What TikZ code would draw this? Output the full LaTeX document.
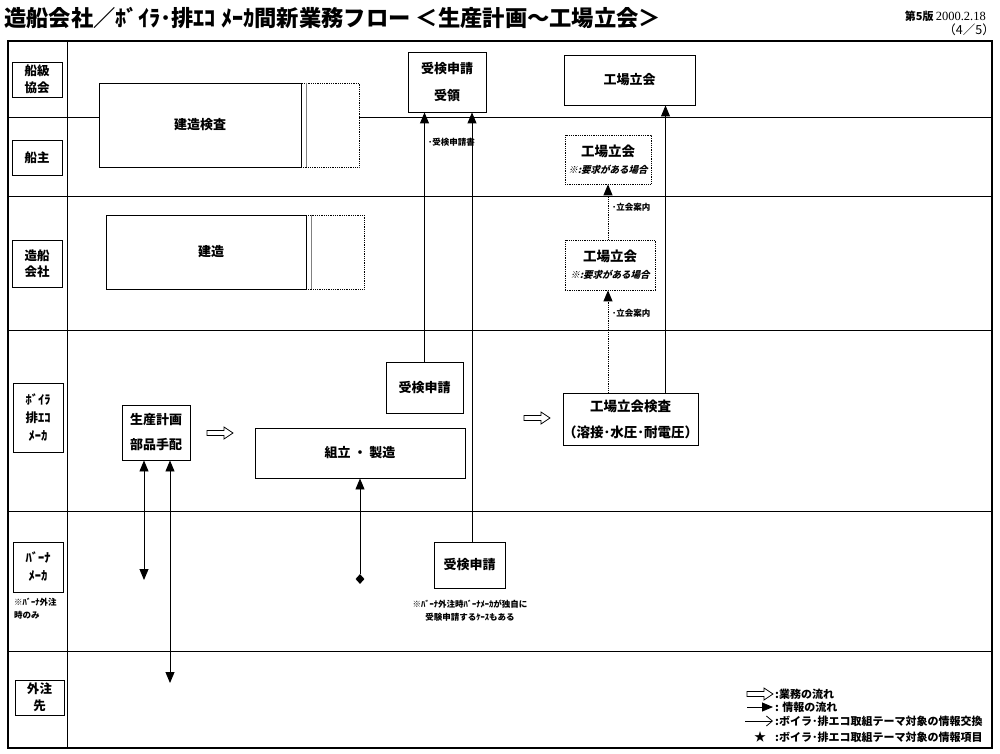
\documentclass[tikz,border=0pt]{standalone}
\usepackage{fontspec}
\setmainfont{Noto Sans CJK JP}
\newfontfamily\jpsl{Noto Sans CJK JP}[FakeSlant=0.25]
\newfontfamily\tnr{Liberation Serif}
\usetikzlibrary{arrows.meta,calc,shapes.geometric}
\begin{document}
\begin{tikzpicture}[x=1pt,y=-1pt,
  box/.style={draw,line width=0.9pt,fill=white,inner sep=0pt,align=center,font=\fontsize{13}{26}\selectfont\bfseries},
  dbox/.style={box,dash pattern=on 0.9pt off 0.9pt,line width=0.7pt},
  lab/.style={box,font=\fontsize{12.5}{16.5}\selectfont\bfseries},
  lane/.style={line width=0.7pt},
  info/.style={line width=0.9pt,-{Triangle[length=11pt,width=9pt]}},
  infob/.style={line width=0.9pt,{Triangle[length=11pt,width=9pt]}-{Triangle[length=11pt,width=9pt]}},
  dline/.style={dash pattern=on 0.9pt off 0.9pt},
  small/.style={font=\fontsize{8.5}{13}\selectfont\bfseries,inner sep=0pt},
  leg/.style={font=\fontsize{11}{12}\selectfont\bfseries,inner sep=0pt,anchor=west},
  flow/.pic={\draw[line width=0.8pt,fill=white] (0,-2.5)--(17,-2.5)--(17,-6)--(26,0)--(17,6)--(17,2.5)--(0,2.5)--cycle;}
]
\useasboundingbox (0,0) rectangle (1000,754);
% title
\node[anchor=west,inner sep=0pt,font=\fontsize{22.3}{22}\selectfont\bfseries] (title) at (4,18) {造船会社／ﾎﾞｲﾗ･排ｴｺ ﾒｰｶ間新業務フロー ＜生産計画～工場立会＞};
\node[anchor=east,inner sep=0pt] (ver) at (986,16) {{\fontsize{11}{11}\selectfont\bfseries 第5版} {\tnr\fontsize{12.5}{12}\selectfont 2000.2.18}};
\node[anchor=east,inner sep=0pt,font=\fontsize{12.5}{12}\selectfont] (pg) at (995,30) {（4／5）};
% frame and lanes
\foreach \y in {117,196,330,511,651} \draw[lane] (8,\y) -- (992,\y);
\draw[line width=1pt] (67,41) -- (67,748);
\draw[line width=1.6pt] (8,41) rectangle (992,748);
% lane labels
\node[lab,minimum width=50,minimum height=35] (l1) at (37,79.5) {船級\\協会};
\node[lab,minimum width=50,minimum height=35] (l2) at (37,157.5) {船主};
\node[lab,minimum width=50,minimum height=47] (l3) at (37,263.5) {造船\\会社};
\node[lab,minimum width=50,minimum height=69,font=\fontsize{12.5}{18}\selectfont\bfseries] (l4) at (38,417.5) {ﾎﾞｲﾗ\\排ｴｺ\\ﾒｰｶ};
\node[lab,minimum width=50,minimum height=50,font=\fontsize{12.5}{18}\selectfont\bfseries] (l5) at (38,567) {ﾊﾞｰﾅ\\ﾒｰｶ};
\node[small,anchor=north west,align=left] (l5n) at (14,598) {※ﾊﾞｰﾅ外注\\時のみ};
\node[lab,minimum width=49,minimum height=35] (l6) at (39.5,697.5) {外注\\先};
% construction boxes
\node[dbox,minimum width=58,minimum height=84] (kkx) at (330,125) {};
\node[box,minimum width=202,minimum height=84] (kk) at (200,125) {建造検査};
\draw[line width=0.4pt,gray] ($(kk.north east)+(5,0)$) -- ($(kk.south east)+(5,0)$);
\node[dbox,minimum width=58,minimum height=74] (kzx) at (335,252) {};
\node[box,minimum width=200,minimum height=74] (kz) at (206,252) {\hspace*{10pt}建造};
\draw[line width=0.4pt,gray] ($(kz.north east)+(5,0)$) -- ($(kz.south east)+(5,0)$);
% boxes
\node[box,minimum width=78,minimum height=60,font=\fontsize{13}{27}\selectfont\bfseries] (recv) at (447,82) {受検申請\\受領};
\node[box,minimum width=131,minimum height=50] (ft1) at (629.5,80) {工場立会};
\node[dbox,minimum width=86,minimum height=49,font=\fontsize{13.5}{17}\selectfont\bfseries] (ft2) at (608,159.5) {工場立会\\{\jpsl\bfseries\fontsize{9.5}{10}\selectfont ※:要求がある場合}};
\node[dbox,minimum width=90,minimum height=50,font=\fontsize{13.5}{17}\selectfont\bfseries] (ft3) at (610,265) {工場立会\\{\jpsl\bfseries\fontsize{9.5}{10}\selectfont ※:要求がある場合}};
\node[box,minimum width=77,minimum height=51] (req1) at (424.5,387.5) {受検申請};
\node[box,minimum width=129,minimum height=52,font=\fontsize{13.5}{26}\selectfont\bfseries] (insp) at (630.5,419) {工場立会検査\\（溶接･水圧･耐電圧）};
\node[box,minimum width=68,minimum height=55,font=\fontsize{13}{25}\selectfont\bfseries] (plan) at (156,432.5) {生産計画\\部品手配};
\node[box,minimum width=210,minimum height=50] (asm) at (360,453) {組立 ・ 製造};
\node[box,minimum width=71,minimum height=46] (req2) at (469.5,565) {受検申請};
\node[small,align=center] (req2n) at (470,611) {※ﾊﾞｰﾅ外注時ﾊﾞｰﾅﾒｰｶが独自に\\受験申請するｹｰｽもある};
% small labels
\node[small,anchor=west] (t1) at (428,142) {･受検申請書};
\node[small,anchor=west] (t2) at (612,207) {･立会案内};
\node[small,anchor=west] (t3) at (612,313) {･立会案内};
% flow arrows
\pic at (207,433) {flow};
\pic at (524,418) {flow};
% info connectors
\draw[info] (req1.north) -- (req1.north |- recv.south);
\coordinate (r2x) at ($(recv.south)+(25,0)$);
\draw[info] (r2x |- req2.north) -- (r2x);
\coordinate (c3) at ($(insp.north)+(35,0)$);
\draw[info] (c3) -- (c3 |- ft1.south);
\draw[info,dline] (ft2.south |- insp.north) -- (ft2.south |- ft3.south);
\draw[info,dline] (ft2.south |- ft3.north) -- (ft2.south);
\node[diamond,fill,inner sep=0pt,minimum width=9,minimum height=10] (dm) at (360,579) {};
\draw[info] (dm.north) -- (asm.south);
\coordinate (p1) at (144,580);
\coordinate (p2) at (170,683);
\draw[infob] (p1) -- (p1 |- plan.south);
\draw[infob] (p2) -- (p2 |- plan.south);
% legend
\pic at (747,694) {flow};
\node[leg] (g1) at (775,694) {:業務の流れ};
\coordinate (g2a) at (747,707); \coordinate (g2b) at (773,707);
\draw[info] (g2a) -- (g2b);
\node[leg] (g2) at (775,707) {: 情報の流れ};
\coordinate (g3a) at (745,721); \coordinate (g3b) at (773,721);
\draw[line width=0.8pt,-{Straight Barb[length=6pt,width=10pt]}] (g3a) -- (g3b);
\node[leg] (g3) at (775,721) {:ボイラ･排エコ取組テーマ対象の情報交換};
\node[inner sep=0pt,font=\fontsize{12}{12}\selectfont] (star) at (760,737) {★};
\node[leg] (g4) at (775,737) {:ボイラ･排エコ取組テーマ対象の情報項目};
\end{tikzpicture}
\end{document}
